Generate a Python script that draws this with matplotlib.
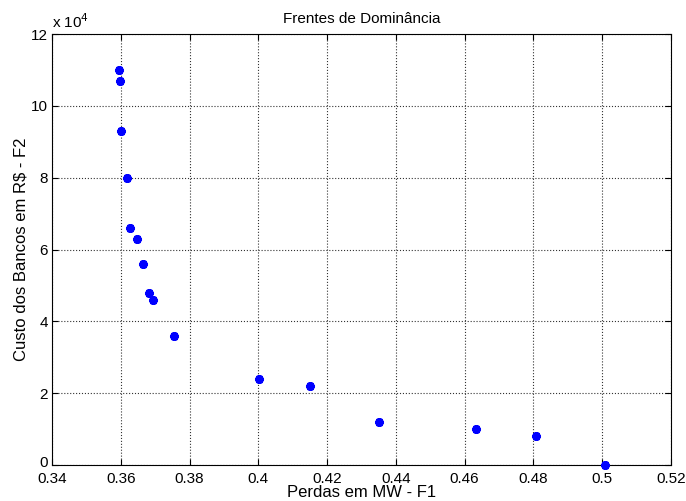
import matplotlib
matplotlib.use("Agg")
import matplotlib.pyplot as plt
import matplotlib.transforms as mtransforms
import numpy as np

# Frente de dominância (perdas x custo)
perdas = [0.3595, 0.3598, 0.3601, 0.3618, 0.3627, 0.3647, 0.3665, 0.3682, 0.3694,
          0.3755, 0.4003, 0.4150, 0.4352, 0.4632, 0.4809, 0.5007]
custo = [11.0e4, 10.7e4, 9.3e4, 8.0e4, 6.6e4, 6.3e4, 5.6e4, 4.8e4, 4.6e4,
         3.6e4, 2.4e4, 2.2e4, 1.2e4, 1.0e4, 0.8e4, 0.0]

xticks = [0.34, 0.36, 0.38, 0.4, 0.42, 0.44, 0.46, 0.48, 0.5, 0.52]
xlabels = ["0.34", "0.36", "0.38", "0.4", "0.42", "0.44", "0.46", "0.48", "0.5", "0.52"]
yticks = [0, 2e4, 4e4, 6e4, 8e4, 10e4, 12e4]
ylabels = ["0", "2", "4", "6", "8", "10", "12"]

plt.rcParams['font.family'] = ['Liberation Sans', 'DejaVu Sans']

fig = plt.figure(figsize=(6.86, 5.01), dpi=100)
ax = fig.add_axes([0.0758, 0.0719, 0.9022, 0.8601])

ax.plot(perdas, custo, linestyle='none', marker=(6, 2, 0), markersize=6,
        markeredgewidth=2.8, color='#0000ff', clip_on=False, zorder=3)

ax.set_xlim(0.34, 0.52)
ax.set_ylim(0, 12e4)
ax.set_xticks(xticks)
ax.set_xticklabels(xlabels)
ax.set_yticks(yticks)
ax.set_yticklabels(ylabels)
ax.tick_params(direction='in', length=4, labelsize=11, top=True, right=True, width=0.8)
ax.tick_params(axis='x', pad=5)
ax.tick_params(axis='y', pad=3)
ax.grid(True, linestyle=':', color='#333333', linewidth=0.8)
for s in ax.spines.values():
    s.set_linewidth(0.8)

# o "0" do eixo y fica um pouco acima, como no MATLAB
lbl0 = ax.get_yticklabels()[0]
lbl0.set_transform(lbl0.get_transform() + mtransforms.ScaledTranslation(0, 3 / 100, fig.dpi_scale_trans))

ax.text(0.0, 1.008, r"x 10$^{4}$", transform=ax.transAxes, fontsize=11, ha='left', va='bottom')
ax.set_title("Frentes de Dominância", fontsize=11, pad=8)
ax.set_xlabel("Perdas em MW - F1", fontsize=12, labelpad=-1)
ax.set_ylabel("Custo dos Bancos em R$ - F2", fontsize=12, labelpad=2)

fig.savefig("out.png", dpi=100)
